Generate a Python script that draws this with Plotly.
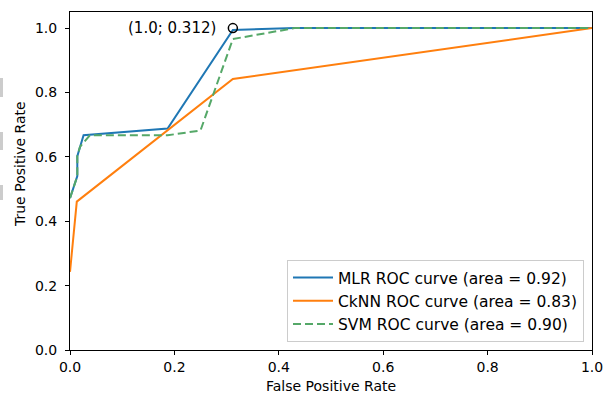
import plotly.graph_objects as go

mlr_fpr = [0.0, 0.014, 0.014, 0.026, 0.187, 0.312, 0.43, 1.0]
mlr_tpr = [0.472, 0.54, 0.602, 0.667, 0.688, 0.994, 1.0, 1.0]

cknn_fpr = [0.0, 0.013, 0.312, 1.0]
cknn_tpr = [0.243, 0.461, 0.842, 1.0]

svm_fpr = [0.0, 0.014, 0.014, 0.019, 0.038, 0.187, 0.25, 0.312, 0.43, 1.0]
svm_tpr = [0.472, 0.54, 0.602, 0.631, 0.667, 0.667, 0.682, 0.966, 1.0, 1.0]

point_x = [0.312]
point_y = [1.0]
point_label = "(1.0; 0.312)"

labels = ["MLR ROC curve (area = 0.92)", "CkNN ROC curve (area = 0.83)", "SVM ROC curve (area = 0.90)"]
x_ticks = [0.0, 0.2, 0.4, 0.6, 0.8, 1.0]
y_ticks = [0.0, 0.2, 0.4, 0.6, 0.8, 1.0]

FONT = "DejaVu Sans"
L, R, T, B = 70, 12, 12, 46
W, H = 604, 396
PW, PH = W - L - R, H - T - B

fig = go.Figure()
fig.add_trace(go.Scatter(x=mlr_fpr, y=mlr_tpr, mode="lines", name=labels[0],
                         line=dict(color="#1f77b4", width=2)))
fig.add_trace(go.Scatter(x=cknn_fpr, y=cknn_tpr, mode="lines", name=labels[1],
                         line=dict(color="#ff7f0e", width=2)))
fig.add_trace(go.Scatter(x=svm_fpr, y=svm_tpr, mode="lines", name=labels[2],
                         line=dict(color="#55a868", width=2, dash="8px,4px")))
fig.add_trace(go.Scatter(x=point_x, y=point_y, mode="markers", showlegend=False,
                         marker=dict(symbol="circle-open", size=9, color="black",
                                     line=dict(width=1.5, color="black"))))

axis_common = dict(showline=True, linecolor="black", linewidth=1, mirror=True,
                   ticks="outside", ticklen=4, tickcolor="black", showgrid=False,
                   zeroline=False, automargin=False,
                   tickfont=dict(family=FONT, size=14, color="black"))

annotations = [
    dict(x=point_x[0], y=point_y[0], xref="x", yref="y", text=point_label,
         showarrow=False, xanchor="right", yanchor="middle", xshift=-15,
         font=dict(family=FONT, size=15, color="black")),
    dict(x=0.5, y=-(386 - (T + PH)) / PH, xref="paper", yref="paper",
         text="False Positive Rate", showarrow=False, xanchor="center", yanchor="middle",
         font=dict(family=FONT, size=14, color="black")),
    dict(x=-(L - 20) / PW, y=(T + PH - 164) / PH, xref="paper", yref="paper",
         text="True Positive Rate", showarrow=False, xanchor="center", yanchor="middle",
         textangle=-90, font=dict(family=FONT, size=14, color="black")),
]

shapes = []
for top, bot in [(78, 97), (132, 150), (185, 200)]:
    shapes.append(dict(type="rect", xref="paper", yref="paper", x0=-L / PW, x1=-(L - 3) / PW,
                       y0=(T + PH - bot) / PH, y1=(T + PH - top) / PH,
                       fillcolor="#cccccc", line=dict(width=0)))

fig.update_layout(
    width=W, height=H,
    margin=dict(l=L, r=R, t=T, b=B, autoexpand=False),
    plot_bgcolor="white", paper_bgcolor="white",
    font=dict(family=FONT, size=14, color="black"),
    xaxis=dict(range=[0, 1.0], tickvals=x_ticks, tickformat=".1f", **axis_common),
    yaxis=dict(range=[0, 1.05], tickvals=y_ticks, tickformat=".1f",
               ticklabelstandoff=5, **axis_common),
    legend=dict(x=(584 - L) / PW, y=(T + PH - 342) / PH, xanchor="right", yanchor="bottom",
                bgcolor="rgba(255,255,255,0.8)", bordercolor="#cccccc", borderwidth=1,
                font=dict(family=FONT, size=15.5), tracegroupgap=0, itemwidth=40),
    annotations=annotations,
    shapes=shapes,
)

fig.write_html("out.html", config={"displayModeBar": False},
               post_script="document.body.style.margin='0';")
